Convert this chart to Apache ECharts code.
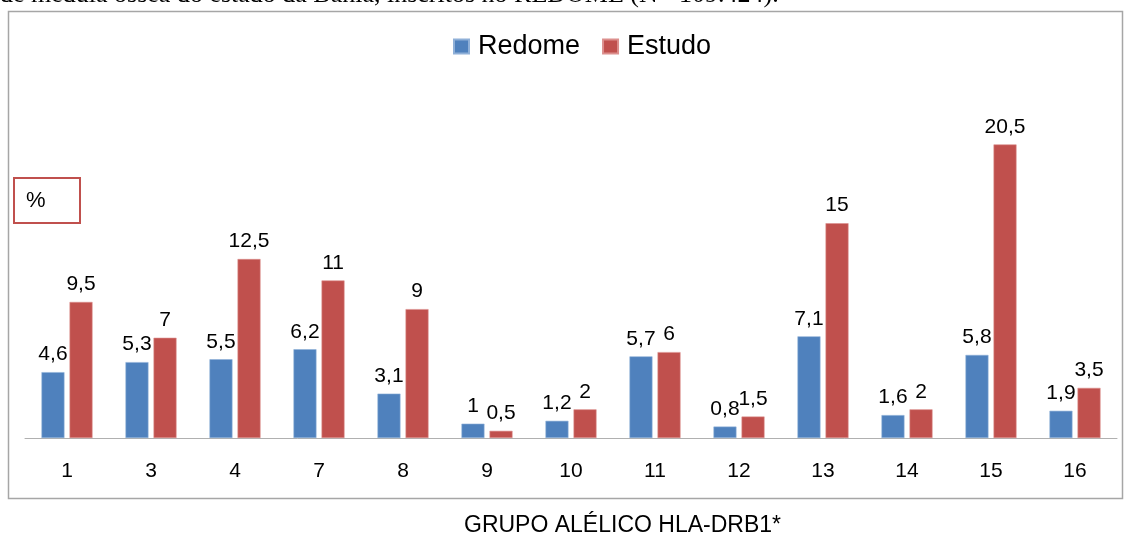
<!DOCTYPE html>
<html>
<head>
<meta charset="utf-8">
<script src="https://cdn.jsdelivr.net/npm/echarts@6/dist/echarts.min.js"></script>
<style>
  html, body { margin: 0; padding: 0; background: #fff; }
  #chart { width: 1130px; height: 539px; }
</style>
</head>
<body>
<div id="chart"></div>
<script>
// grupos alélicos HLA-DRB1*
var categories = ['1', '3', '4', '7', '8', '9', '10', '11', '12', '13', '14', '15', '16'];
var redome = [4.6, 5.3, 5.5, 6.2, 3.1, 1, 1.2, 5.7, 0.8, 7.1, 1.6, 5.8, 1.9];
var estudo = [9.5, 7, 12.5, 11, 9, 0.5, 2, 6, 1.5, 15, 2, 20.5, 3.5];

var fontFam = '"Liberation Sans", Arial, sans-serif';

// virgula decimal
function fmt(p) {
  return String(p.value).replace('.', ',');
}

var chart = echarts.init(document.getElementById('chart'));

chart.setOption({
  animation: false,
  backgroundColor: '#fff',
  textStyle: { fontFamily: fontFam },
  legend: {
    left: 448,
    top: 28,
    itemWidth: 15,
    itemHeight: 14,
    itemGap: 22,
    icon: 'rect',
    textStyle: { fontSize: 27, color: '#000', fontFamily: fontFam, padding: [0, 0, 0, 4] },
    data: ['Redome', 'Estudo']
  },
  grid: {
    left: 25,
    right: 13,
    top: 80,
    bottom: 101,
    outerBoundsMode: 'none',
    containLabel: false
  },
  xAxis: {
    type: 'category',
    data: categories,
    axisTick: { show: false },
    axisLine: { lineStyle: { color: '#b0b0b0', width: 1 } },
    axisLabel: { fontSize: 21, color: '#000', margin: 23, fontFamily: fontFam }
  },
  yAxis: {
    type: 'value',
    min: 0,
    max: 25,
    show: false,
    splitLine: { show: false }
  },
  series: [
    {
      name: 'Redome',
      type: 'bar',
      data: redome,
      barWidth: 23,
      barGap: '22%',
      itemStyle: { color: '#4F81BD', borderColor: '#8fb0d8', borderWidth: 0.6 },
      label: {
        show: true, position: 'top', distance: 7,
        fontSize: 21, color: '#000', fontFamily: fontFam,
        formatter: fmt
      }
    },
    {
      name: 'Estudo',
      type: 'bar',
      data: estudo,
      barWidth: 23,
      itemStyle: { color: '#C0504D', borderColor: '#dc8f8d', borderWidth: 0.6 },
      label: {
        show: true, position: 'top', distance: 7,
        fontSize: 21, color: '#000', fontFamily: fontFam,
        formatter: fmt
      }
    }
  ],
  graphic: [
    {
      type: 'text',
      left: 0,
      top: -18,
      style: {
        text: 'de medula óssea do estado da Bahia, inscritos no REDOME (N= 109.424).',
        font: '26px "Liberation Serif", "Times New Roman", serif',
        fill: '#000'
      }
    },
    {
      type: 'rect',
      shape: { x: 8.5, y: 11.5, width: 1114, height: 487 },
      style: { fill: 'none', stroke: '#a6a6a6', lineWidth: 1.5 },
      silent: true
    },
    {
      type: 'rect',
      shape: { x: 14, y: 178, width: 66, height: 45 },
      style: { fill: '#fff', stroke: '#C0504D', lineWidth: 2 }
    },
    {
      type: 'text',
      left: 26,
      top: 190,
      style: { text: '%', font: '22px "Liberation Sans", Arial, sans-serif', fill: '#000' }
    },
    {
      type: 'text',
      left: 464,
      top: 514,
      style: { text: 'GRUPO ALÉLICO HLA-DRB1*', font: '23px "Liberation Sans", Arial, sans-serif', fill: '#000' }
    }
  ]
});
</script>
</body>
</html>
